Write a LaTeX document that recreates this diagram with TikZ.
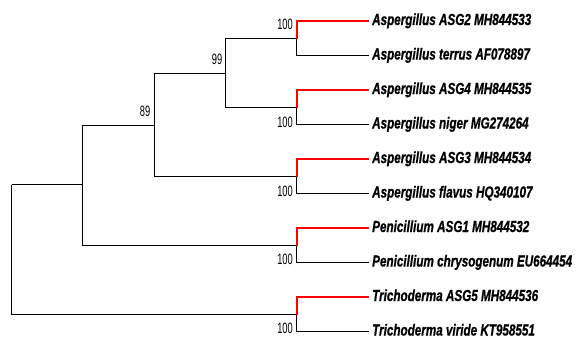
\documentclass[tikz,border=0pt]{standalone}
\usepackage{fontspec}
\setmainfont{Liberation Sans}
\newfontfamily\leaffont[FakeStretch=0.73,FakeBold=0.8]{Liberation Sans}
\newfontfamily\numfont[FakeStretch=0.62]{Liberation Sans}
\tikzset{
  branch/.style={draw=black, line width=1.1pt},
  redbranch/.style={draw=red, line width=2pt},
  leaflabel/.style={anchor=base west, inner sep=0pt, font=\leaffont\bfseries\itshape\fontsize{16}{18}\selectfont},
  bootstrap/.style={inner sep=0pt, font=\numfont\fontsize{15}{16}\selectfont},
}
\begin{document}
\begin{tikzpicture}[x=1pt,y=-1pt]
\useasboundingbox (0,0) rectangle (580,338);
% internal nodes
\coordinate (root) at (11.5,184.5);
\coordinate (n3) at (82.5,184.5);
\coordinate (n89) at (154.5,125.5);
\coordinate (n99) at (225.5,73.5);
\coordinate (c1) at (296.5,38.5);
\coordinate (c2) at (296.5,107.5);
\coordinate (c3) at (296.5,176.5);
\coordinate (c4) at (296.5,245.5);
\coordinate (c5) at (296.5,314.5);
% leaves
\coordinate (l1) at (369,21);
\coordinate (l2) at (369,55.5);
\coordinate (l3) at (369,90);
\coordinate (l4) at (369,124.5);
\coordinate (l5) at (369,159);
\coordinate (l6) at (369,193.5);
\coordinate (l7) at (369,228);
\coordinate (l8) at (369,262.5);
\coordinate (l9) at (369,297);
\coordinate (l10) at (369,331.5);
% internal branches
\draw[branch] (root) -- (n3);
\draw[branch] (root) |- (c5);
\draw[branch] (n3) |- (n89);
\draw[branch] (n3) |- (c4);
\draw[branch] (n89) |- (n99);
\draw[branch] (n89) |- (c3);
\draw[branch] (n99) |- (c1);
\draw[branch] (n99) |- (c2);
% terminal branches
\draw[redbranch] (c1) |- (l1);
\draw[branch] (c1) |- (l2);
\draw[redbranch] (c2) |- (l3);
\draw[branch] (c2) |- (l4);
\draw[redbranch] (c3) |- (l5);
\draw[branch] (c3) |- (l6);
\draw[redbranch] (c4) |- (l7);
\draw[branch] (c4) |- (l8);
\draw[redbranch] (c5) |- (l9);
\draw[branch] (c5) |- (l10);
% leaf labels
\node[leaflabel] (t1) at ([xshift=3pt,yshift=-4pt]l1) {Aspergillus ASG2 MH844533};
\node[leaflabel] (t2) at ([xshift=3pt,yshift=-4pt]l2) {Aspergillus terrus AF078897};
\node[leaflabel] (t3) at ([xshift=3pt,yshift=-4pt]l3) {Aspergillus ASG4 MH844535};
\node[leaflabel] (t4) at ([xshift=3pt,yshift=-4pt]l4) {Aspergillus niger MG274264};
\node[leaflabel] (t5) at ([xshift=3pt,yshift=-4pt]l5) {Aspergillus ASG3 MH844534};
\node[leaflabel] (t6) at ([xshift=3pt,yshift=-4pt]l6) {Aspergillus flavus HQ340107};
\node[leaflabel] (t7) at ([xshift=3pt,yshift=-4pt]l7) {Penicillium ASG1 MH844532};
\node[leaflabel] (t8) at ([xshift=3pt,yshift=-4pt]l8) {Penicillium chrysogenum EU664454};
\node[leaflabel] (t9) at ([xshift=3pt,yshift=-4pt]l9) {Trichoderma ASG5 MH844536};
\node[leaflabel] (t10) at ([xshift=3pt,yshift=-4pt]l10) {Trichoderma viride KT958551};
% bootstrap values
\node[bootstrap, anchor=east] (b1) at (293,24.5) {100};
\node[bootstrap, anchor=east] (b2) at (293,122) {100};
\node[bootstrap, anchor=east] (b3) at (293,191) {100};
\node[bootstrap, anchor=east] (b4) at (293,259.5) {100};
\node[bootstrap, anchor=east] (b5) at (293,328.5) {100};
\node[bootstrap, anchor=east] (b99) at (222.5,59.5) {99};
\node[bootstrap, anchor=east] (b89) at (150.5,111.5) {89};
\end{tikzpicture}
\end{document}
